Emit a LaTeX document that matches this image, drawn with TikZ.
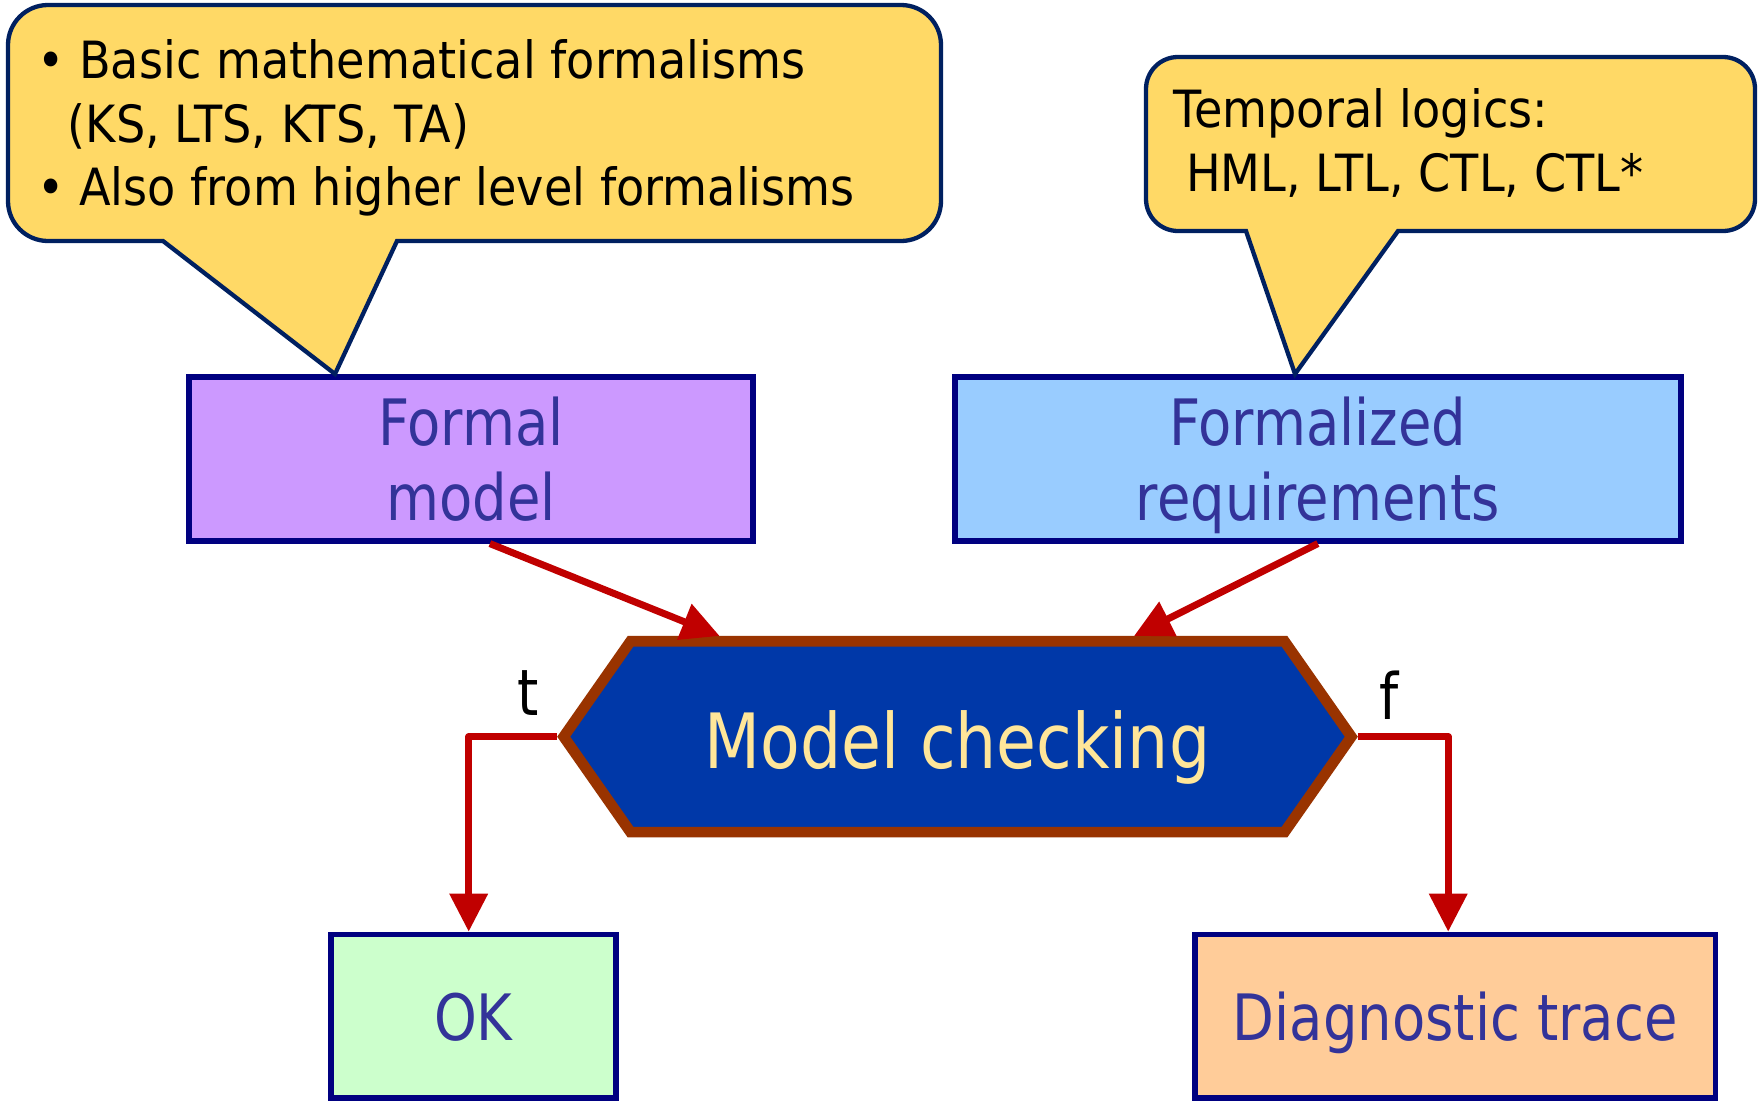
\documentclass[tikz,border=0pt]{standalone}
\usepackage{fontspec}
\setmainfont{DejaVu Sans}[FakeStretch=0.9]
\newfontfamily\boxfont{DejaVu Sans}[FakeStretch=0.85]
\usetikzlibrary{arrows.meta, calc}
\definecolor{callfill}{HTML}{FFD966}
\definecolor{calldraw}{HTML}{002060}
\definecolor{boxdraw}{HTML}{000080}
\definecolor{boxtext}{HTML}{333399}
\definecolor{modelfill}{HTML}{CC99FF}
\definecolor{reqfill}{HTML}{99CCFF}
\definecolor{okfill}{HTML}{CCFFCC}
\definecolor{tracefill}{HTML}{FFCC99}
\definecolor{mcfill}{HTML}{0038A8}
\definecolor{mcdraw}{HTML}{993300}
\definecolor{mctext}{HTML}{FFE699}
\definecolor{flowred}{HTML}{C00000}

\tikzset{
	block/.style={draw=boxdraw, line width=0.055cm, inner sep=0pt, text=boxtext, align=center,
		font=\boxfont\fontsize{18.2}{21.3}\selectfont},
	callout/.style={draw=calldraw, fill=callfill, line width=0.043cm},
	calltext/.style={anchor=north west, inner sep=0pt, align=left, font=\fontsize{14.6}{18.07}\selectfont},
	flow/.style={draw=flowred, line width=0.07cm, line join=round, -{Triangle[length=0.38cm, width=0.37cm]}},
	branch/.style={inner sep=0pt, anchor=base, font=\boxfont\fontsize{18.2}{21.3}\selectfont},
}

\begin{document}
\begin{tikzpicture}
	\useasboundingbox (0,0) rectangle (17.61,11.10);

	\node[block, fill=modelfill, minimum width=5.643cm, minimum height=1.641cm] (fm) at (4.709,6.512) {Formal\\model};
	\node[block, fill=reqfill, minimum width=7.26cm, minimum height=1.641cm] (fr) at (13.178,6.512) {Formalized\\\smash{requirements}};
	\node[block, fill=okfill, text depth=0pt, minimum width=2.852cm, minimum height=1.638cm] (ok) at (4.734,0.937) {OK};
	\node[block, fill=tracefill, text depth=0pt, minimum width=5.209cm, minimum height=1.638cm] (dt) at (14.552,0.937) {Diagnostic trace};

	% hexagon
	\coordinate (mcc) at (9.575,3.733);
	\draw[draw=mcdraw, fill=mcfill, line width=0.107cm]
		($(mcc)+(-3.27,0.954)$) -- ($(mcc)+(3.27,0.954)$) -- ($(mcc)+(3.938,0)$)
		-- ($(mcc)+(3.27,-0.954)$) -- ($(mcc)+(-3.27,-0.954)$) -- ($(mcc)+(-3.938,0)$) -- cycle;
	\node[inner sep=0pt, anchor=base, text=mctext, font=\boxfont\fontsize{21.7}{26}\selectfont] (mc) at ($(mcc)+(0,-0.313)$) {Model checking};
	\coordinate (mcn) at ($(mcc)+(0,1.0075)$);
	\coordinate (mcw) at ($(mcc)+(-4.003,0)$);
	\coordinate (mce) at ($(mcc)+(4.003,0)$);

	\draw[flow] ([xshift=0.19cm]fm.south) -- ([xshift=-2.379cm]mcn);
	\draw[flow] (fr.south) -- ([xshift=1.765cm]mcn);
	\draw[flow] (mcw) -| ([xshift=-0.047cm]ok.north);
	\draw[flow] (mce) -| ([xshift=-0.07cm]dt.north);

	\node[branch] (t) at (5.285,3.95) {t};
	\node[branch] (f) at (13.89,3.91) {f};

	% callouts
	\draw[callout] (3.97,8.69) -- (9.01,8.69) arc (270:360:0.4) -- (9.41,10.65) arc (0:90:0.4)
		-- (0.48,11.05) arc (90:180:0.4) -- (0.08,9.09) arc (180:270:0.4) -- (1.63,8.69)
		-- ($(fm.north)+(-1.359,0)$) -- cycle;
	\draw[callout] (13.98,8.79) -- (17.23,8.79) arc (270:360:0.32) -- (17.55,10.21) arc (0:90:0.32)
		-- (11.78,10.53) arc (90:180:0.32) -- (11.46,9.11) arc (180:270:0.32) -- (12.46,8.79)
		-- ($(fr.north)+(-0.228,0)$) -- cycle;

	\node[calltext] (basics) at (0.365,10.71) {\makebox[0.42cm][l]{•}Basic mathematical formalisms\\
		\hspace*{0.307cm}(KS, LTS, KTS, TA)\\
		\makebox[0.42cm][l]{•}Also from higher level formalisms};
	\node[calltext] (logics) at (11.73,10.217) {Temporal logics:\\\hspace*{0.125cm}HML, LTL, CTL, CTL*};
\end{tikzpicture}
\end{document}
